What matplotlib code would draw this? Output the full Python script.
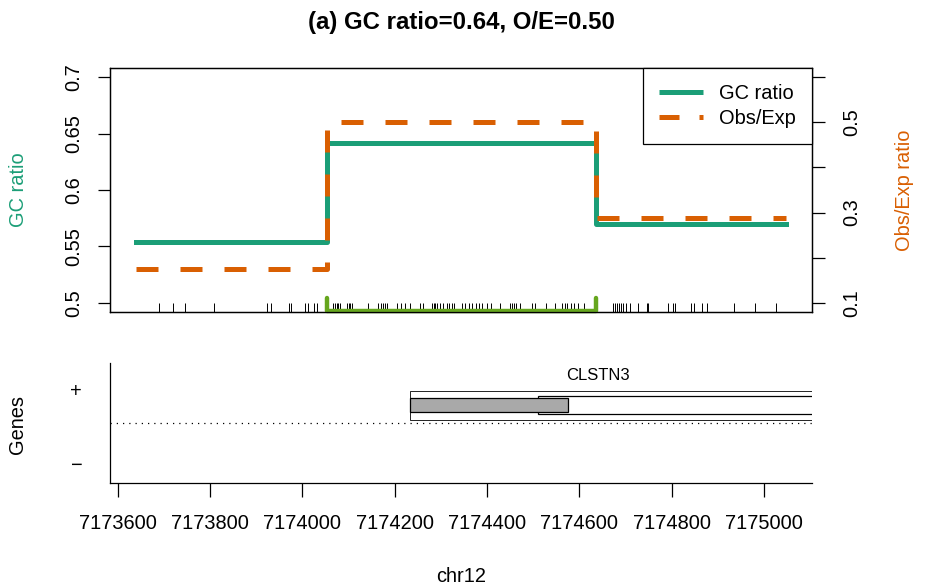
import matplotlib
matplotlib.use("Agg")
import matplotlib.pyplot as plt
from matplotlib.patches import Rectangle
from matplotlib.lines import Line2D

plt.rcParams['font.family'] = ['Liberation Sans', 'DejaVu Sans']

# region and window boundaries (chr12)
seg_bounds = [7173639, 7174053, 7174636, 7175048]
gc_ratio = [0.554, 0.642, 0.570]
obs_exp = [0.175, 0.500, 0.289]

# CpG island
island = (7174053, 7174636)

# CpG site positions (rug)
cpg_sites = [
    7173690, 7173719, 7173746, 7173809, 7173923, 7173931, 7173971, 7173976,
    7174006, 7174013, 7174024, 7174031, 7174067, 7174071, 7174074, 7174078,
    7174082, 7174096, 7174100, 7174103, 7174107, 7174141, 7174164, 7174170,
    7174175, 7174179, 7174183, 7174204, 7174214, 7174222, 7174233, 7174255,
    7174262, 7174280, 7174284, 7174287, 7174291, 7174298, 7174304, 7174313,
    7174318, 7174323, 7174328, 7174346, 7174353, 7174361, 7174368, 7174376,
    7174383, 7174390, 7174400, 7174409, 7174429, 7174450, 7174455, 7174458,
    7174462, 7174471, 7174497, 7174504, 7174528, 7174547, 7174562, 7174568,
    7174574, 7174582, 7174588, 7174596, 7174611, 7174672, 7174677, 7174682,
    7174686, 7174690, 7174694, 7174700, 7174710, 7174728, 7174746, 7174749,
    7174791, 7174803, 7174807, 7174841, 7174849, 7174865, 7174876, 7174936,
    7174980, 7175027,
]

# gene CLSTN3 (+ strand)
gene_name = "CLSTN3"
gene_start = 7174233
gene_end = 7175300
exon_start, exon_end = 7174233, 7174575
utr_start = 7174510

xticks = list(range(7173600, 7175001, 200))
gc_ticks = [0.5, 0.55, 0.6, 0.65, 0.7]
oe_ticks = [0.1, 0.2, 0.3, 0.4, 0.5, 0.6]
oe_labels = ["0.1", "", "0.3", "", "0.5", ""]

green = "#1B9E77"
orange = "#D95F02"
lgreen = "#66A61E"
fs = 14.4

W, H = 927, 588
fig = plt.figure(figsize=(W / 100, H / 100), dpi=100)

def box(l, t, r, b):
    return [l / W, 1 - b / H, (r - l) / W, (b - t) / H]

ax = fig.add_axes(box(110, 68, 812, 312))
ax2 = ax.twinx()
axg = fig.add_axes(box(110, 363, 812, 483), sharex=ax)

xlim = (7173583, 7175104)

# GC ratio step line
ax.step(seg_bounds, gc_ratio + [gc_ratio[-1]], where='post', color=green, lw=3.6)
ax.set_ylim(0.492, 0.708)
ax.set_yticks(gc_ticks)
ax.set_yticklabels([f"{v:g}" for v in gc_ticks], rotation=90, va='center')
ax.tick_params(axis='y', labelsize=fs, length=9, width=0.9, pad=10)
ax.tick_params(axis='x', bottom=False, labelbottom=False)
for s in ax.spines.values():
    s.set_linewidth(0.9)

# rug of CpG sites
ax.vlines(cpg_sites, 0, 0.035, transform=ax.get_xaxis_transform(),
          color='black', lw=0.7)
# CpG island bar
ax.plot([island[0], island[0], island[1], island[1]], [0.057, 0.006, 0.006, 0.057],
        transform=ax.get_xaxis_transform(), color=lgreen, lw=3.2,
        solid_capstyle='round', solid_joinstyle='round', clip_on=False, zorder=5)

# Obs/Exp step line
ax2.step(seg_bounds, obs_exp + [obs_exp[-1]], where='post', color=orange, lw=3.6,
         linestyle=(0, (4.4, 4.4)))
ax2.set_ylim(0.08, 0.62)
ax2.set_yticks(oe_ticks)
ax2.set_yticklabels(oe_labels, rotation=90, va='center')
ax2.tick_params(axis='y', labelsize=fs, length=9, width=0.9, pad=13)
for s in ax2.spines.values():
    s.set_linewidth(0.9)

handles = [Line2D([], [], color=green, lw=3.6, solid_capstyle='butt'),
           Line2D([], [], color=orange, lw=3.6, linestyle=(0, (4.0, 4.0)))]
leg = ax2.legend(handles, ["GC ratio", "Obs/Exp"], loc='upper right', fontsize=fs,
                 frameon=True, fancybox=False, edgecolor='black', framealpha=1,
                 borderaxespad=0, handlelength=2.2, handletextpad=0.8,
                 borderpad=0.8, labelspacing=0.3)
leg.get_frame().set_linewidth(0.9)

ax.set_xlim(*xlim)

# gene panel
axg.set_ylim(0, 1)
axg.axhline(0.5, color='black', lw=0.9, linestyle=(0, (1, 4)))
axg.add_patch(Rectangle((gene_start, 0.525), gene_end - gene_start, 0.244,
                        facecolor='white', edgecolor='black', lw=0.6))
axg.add_patch(Rectangle((utr_start, 0.575), gene_end - utr_start, 0.15,
                        facecolor='white', edgecolor='black', lw=0.9))
axg.add_patch(Rectangle((exon_start, 0.589), exon_end - exon_start, 0.122,
                        facecolor='#A9A9A9', edgecolor='black', lw=0.9))
axg.text(7174640, 0.90, gene_name, ha='center', va='center', fontsize=12)
axg.set_yticks([0.783, 0.167])
axg.set_yticklabels(["+", "\u2212"], fontsize=fs)
axg.tick_params(axis='y', length=0, pad=20)
axg.spines['top'].set_visible(False)
axg.spines['right'].set_visible(False)
axg.spines['left'].set_linewidth(0.9)
axg.spines['bottom'].set_linewidth(0.9)
axg.set_xticks(xticks)
axg.set_xticklabels([str(v) for v in xticks])
axg.tick_params(axis='x', labelsize=fs, length=10, width=0.9, pad=12)
axg.set_xlim(*xlim)

fig.text(461 / W, 1 - 22 / H, "(a) GC ratio=0.64, O/E=0.50", ha='center', va='center',
         fontsize=17.3, fontweight='bold')
fig.text(18 / W, 1 - 190 / H, "GC ratio", rotation=90, ha='center', va='center',
         fontsize=fs, color=green)
fig.text(904 / W, 1 - 190 / H, "Obs/Exp ratio", rotation=90, ha='center', va='center',
         fontsize=fs, color=orange)
fig.text(18 / W, 1 - 424 / H, "Genes", rotation=90, ha='center', va='center',
         fontsize=fs)
fig.text(461 / W, 1 - 577 / H, "chr12", ha='center', va='center', fontsize=fs)

fig.savefig("out.png", dpi=100)
